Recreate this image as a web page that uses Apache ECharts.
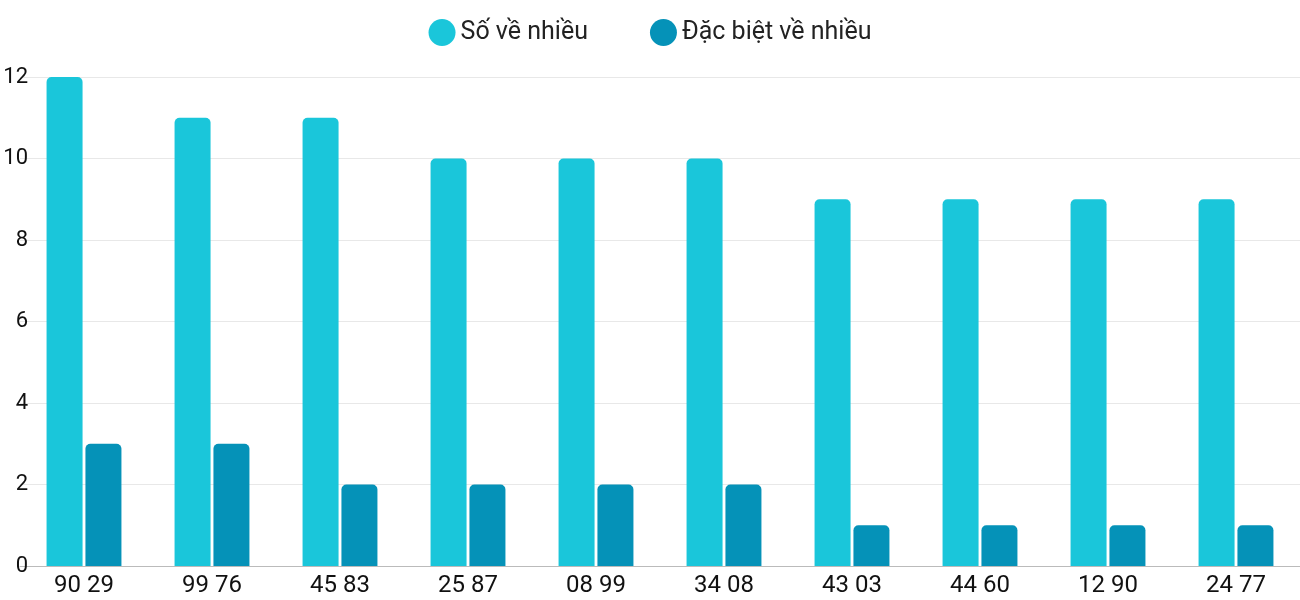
<!DOCTYPE html>
<html><head><meta charset="utf-8">
<script src="https://cdn.jsdelivr.net/npm/echarts@6/dist/echarts.min.js"></script>
<style>html,body{margin:0;padding:0;background:#fff}#c{width:1300px;height:600px}</style>
</head><body><div id="c"></div>
<script>
const categories = ["90 29","99 76","45 83","25 87","08 99","34 08","43 03","44 60","12 90","24 77"];
const soVeNhieu = [12,11,11,10,10,10,9,9,9,9];
const dacBietVeNhieu = [3,3,2,2,2,2,1,1,1,1];
const yTicks = [0,2,4,6,8,10,12];
const chart = echarts.init(document.getElementById('c'));
chart.setOption({
  animation:false,
  textStyle:{fontFamily:'Roboto'},
  legend:{top:14,left:'center',itemWidth:27,itemHeight:27,itemGap:62,icon:'circle',
    textStyle:{fontSize:25,color:'#222',fontFamily:'Roboto'}},
  grid:{left:20,width:1307,top:77,bottom:34,containLabel:false},
  xAxis:{type:'category',data:categories,
    axisLine:{lineStyle:{color:'#bbb'}},axisTick:{show:false},
    axisLabel:{fontSize:24,color:'#111',margin:8,fontFamily:'Roboto'}},
  yAxis:{type:'value',min:yTicks[0],max:yTicks[yTicks.length-1],interval:2,
    axisLabel:{fontSize:22,color:'#111',align:'right',margin:-8,fontFamily:'Roboto'},
    splitLine:{lineStyle:{color:'#e8e8e8'}},axisLine:{show:false}},
  series:[
    {name:'Số về nhiều',type:'bar',data:soVeNhieu,barWidth:36,barGap:'8%',
      itemStyle:{color:'#1ac6da',borderRadius:[5,5,0,0]}},
    {name:'Đặc biệt về nhiều',type:'bar',data:dacBietVeNhieu,barWidth:36,
      itemStyle:{color:'#0592b8',borderRadius:[5,5,0,0]}}
  ]
});
</script></body></html>
